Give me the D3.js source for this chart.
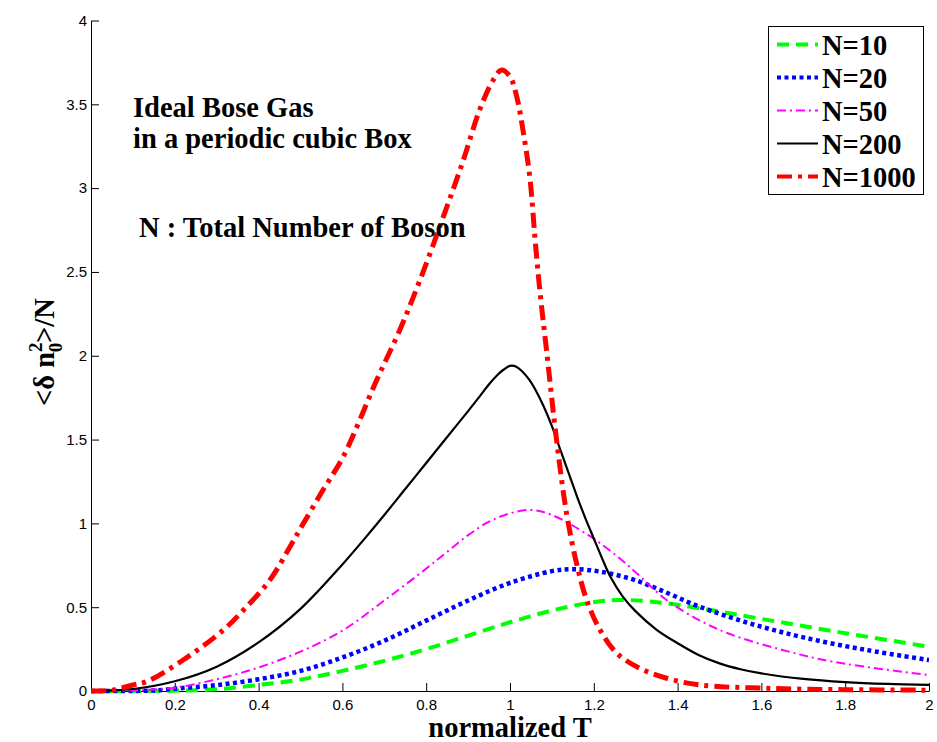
<!DOCTYPE html>
<html>
<head>
<meta charset="utf-8">
<script src="https://cdn.jsdelivr.net/npm/d3@7"></script>
<style>
  body { margin: 0; background: #fff; }
  svg text { fill: #000; }
</style>
</head>
<body>
<div id="chart"></div>
<script>
// values (normalized T, <dn0^2>/N)
const tN10 = [0, 0.2, 0.3, 0.4, 0.5, 0.6, 0.7, 0.8, 0.9, 1.0, 1.1, 1.2, 1.26, 1.34, 1.45, 1.6, 1.8, 2.0];
const vN10 = [0, 0.002, 0.01, 0.036, 0.068, 0.12, 0.18, 0.25, 0.33, 0.41, 0.48, 0.53, 0.543, 0.533, 0.495, 0.43, 0.345, 0.264];

const tN20 = [0, 0.15, 0.21, 0.3, 0.4, 0.5, 0.6, 0.7, 0.8, 0.9, 1.0, 1.1, 1.15, 1.22, 1.3, 1.38, 1.45, 1.57, 1.7, 1.85, 2.0];
const vN20 = [0, 0.003, 0.016, 0.035, 0.07, 0.12, 0.2, 0.3, 0.42, 0.54, 0.645, 0.715, 0.727, 0.71, 0.66, 0.58, 0.505, 0.405, 0.32, 0.245, 0.185];

const tN50 = [0, 0.1, 0.2, 0.3, 0.4, 0.5, 0.6, 0.7, 0.8, 0.85, 0.9, 0.95, 1.0, 1.05, 1.1, 1.19, 1.26, 1.31, 1.37, 1.45, 1.53, 1.65, 1.77, 2.0];
const vN50 = [0, 0.003, 0.02, 0.07, 0.14, 0.235, 0.36, 0.54, 0.73, 0.83, 0.93, 1.01, 1.06, 1.08, 1.05, 0.925, 0.795, 0.685, 0.55, 0.425, 0.335, 0.245, 0.175, 0.095];

const tN200 = [0, 0.1, 0.2, 0.3, 0.4, 0.5, 0.6, 0.65, 0.7, 0.75, 0.8, 0.85, 0.9, 0.93, 0.95, 0.97, 0.985, 1.0, 1.015, 1.03, 1.045, 1.06, 1.08, 1.1, 1.12, 1.14, 1.16, 1.18, 1.2, 1.22, 1.24, 1.27, 1.3, 1.35, 1.4, 1.45, 1.5, 1.55, 1.6, 1.7, 1.8, 1.9, 2.0];
const vN200 = [0, 0.012, 0.058, 0.145, 0.29, 0.49, 0.755, 0.9, 1.05, 1.205, 1.36, 1.515, 1.67, 1.765, 1.83, 1.885, 1.918, 1.94, 1.935, 1.905, 1.86, 1.8, 1.7, 1.58, 1.44, 1.3, 1.16, 1.03, 0.91, 0.79, 0.68, 0.56, 0.475, 0.365, 0.285, 0.215, 0.165, 0.13, 0.105, 0.072, 0.053, 0.042, 0.036];

const tN1000 = [0, 0.05, 0.1, 0.133, 0.22, 0.316, 0.364, 0.427, 0.475, 0.507, 0.554, 0.602, 0.682, 0.737, 0.785, 0.841, 0.889, 0.928, 0.96, 0.98, 1.0, 1.016, 1.032, 1.048, 1.06, 1.072, 1.088, 1.111, 1.135, 1.159, 1.183, 1.215, 1.255, 1.31, 1.374, 1.453, 1.613, 1.8, 2.0];
const vN1000 = [0, 0.005, 0.036, 0.056, 0.185, 0.364, 0.483, 0.662, 0.861, 1.0, 1.2, 1.398, 1.856, 2.154, 2.45, 2.83, 3.17, 3.47, 3.645, 3.705, 3.665, 3.546, 3.33, 3.05, 2.69, 2.37, 2.015, 1.5, 1.06, 0.76, 0.543, 0.364, 0.225, 0.135, 0.076, 0.036, 0.016, 0.008, 0.005];

const seriesNames = ['N=10', 'N=20', 'N=50', 'N=200', 'N=1000'];
const xTicks = [0, 0.2, 0.4, 0.6, 0.8, 1, 1.2, 1.4, 1.6, 1.8, 2];
const yTicks = [0, 0.5, 1, 1.5, 2, 2.5, 3, 3.5, 4];

const styles = [
  { color: '#00ff00', width: 4, dash: '12,7' },
  { color: '#0000ff', width: 4.5, dash: '4,3.5' },
  { color: '#ff00ff', width: 2, dash: '9,4,2,4' },
  { color: '#000000', width: 2.2, dash: null },
  { color: '#ff0000', width: 5, dash: '15,6,4,6' }
];

const series = [[tN10, vN10], [tN20, vN20], [tN50, vN50], [tN200, vN200], [tN1000, vN1000]]
  .map(function(s, i) {
    return { name: seriesNames[i], style: styles[i], points: s[0].map(function(t, j) { return [t, s[1][j]]; }) };
  });

const width = 937, height = 742;
const margin = { top: 20.5, right: 8, bottom: 51, left: 91 };

const svg = d3.select('#chart').append('svg')
  .attr('width', width)
  .attr('height', height);

const x = d3.scaleLinear().domain([0, 2]).range([margin.left, width - margin.right]);
const y = d3.scaleLinear().domain([0, 4]).range([height - margin.bottom, margin.top]);

// axes (ticks inward)
const xAxis = svg.append('g')
  .attr('transform', 'translate(0,' + y(0) + ')')
  .call(d3.axisBottom(x).tickValues(xTicks).tickSizeInner(-8).tickSizeOuter(0).tickPadding(8).tickFormat(d3.format('')));
const yAxis = svg.append('g')
  .attr('transform', 'translate(' + x(0) + ',0)')
  .call(d3.axisLeft(y).tickValues(yTicks).tickSizeInner(-8).tickSizeOuter(0).tickPadding(4).tickFormat(d3.format('')));

[xAxis, yAxis].forEach(function(a) {
  a.selectAll('text').style('font-family', '"Liberation Sans", Arial, sans-serif').style('font-size', '15px').attr('fill', '#000');
  a.selectAll('line, path').attr('stroke', '#000').attr('stroke-width', 1);
});

// curves
svg.append('clipPath').attr('id', 'plotclip')
  .append('rect')
  .attr('x', x(0)).attr('y', 0)
  .attr('width', x(2) - x(0)).attr('height', y(0) + 3);

const line = d3.line()
  .x(function(d) { return x(d[0]); })
  .y(function(d) { return y(d[1]); })
  .curve(d3.curveCatmullRom.alpha(0.5));

svg.append('g').attr('clip-path', 'url(#plotclip)')
  .selectAll('path')
  .data(series)
  .enter().append('path')
  .attr('fill', 'none')
  .attr('stroke', function(d) { return d.style.color; })
  .attr('stroke-width', function(d) { return d.style.width; })
  .attr('stroke-dasharray', function(d) { return d.style.dash; })
  .attr('d', function(d) { return line(d.points); });

// annotation text
const serif = '"Liberation Serif", "Times New Roman", serif';
const notes = [
  { text: 'Ideal Bose Gas', x: 133, y: 117 },
  { text: 'in a periodic cubic Box', x: 133, y: 148 },
  { text: 'N : Total Number of Boson', x: 139, y: 237 }
];
svg.append('g').selectAll('text')
  .data(notes)
  .enter().append('text')
  .attr('x', function(d) { return d.x; })
  .attr('y', function(d) { return d.y; })
  .style('font-family', serif)
  .style('font-weight', 'bold')
  .style('font-size', '28.5px')
  .text(function(d) { return d.text; });

// x label
svg.append('text')
  .attr('x', 510).attr('y', 737)
  .attr('text-anchor', 'middle')
  .style('font-family', serif).style('font-weight', 'bold').style('font-size', '28.5px')
  .text('normalized T');

// y label  <δ n0^2>/N
const ylab = svg.append('text')
  .attr('transform', 'translate(54,352) rotate(-90)')
  .attr('text-anchor', 'middle')
  .style('font-family', serif).style('font-weight', 'bold').style('font-size', '28.5px');
ylab.append('tspan').text('<δ n');
ylab.append('tspan').attr('dy', -12).style('font-size', '19px').text('2');
ylab.append('tspan').attr('dx', -10).attr('dy', 20).style('font-size', '19px').text('0');
ylab.append('tspan').attr('dy', -8).text('>/N');

// legend
const legend = svg.append('g');
legend.append('rect')
  .attr('x', 768.5).attr('y', 26.5)
  .attr('width', 155).attr('height', 168)
  .attr('fill', '#fff').attr('stroke', '#000').attr('stroke-width', 1);
const item = legend.selectAll('g.item')
  .data(series)
  .enter().append('g')
  .attr('class', 'item')
  .attr('transform', function(d, i) { return 'translate(0,' + (44.5 + i * 33) + ')'; });
item.append('line')
  .attr('x1', 777).attr('x2', 818)
  .attr('stroke', function(d) { return d.style.color; })
  .attr('stroke-width', function(d) { return Math.min(d.style.width, 4); })
  .attr('stroke-dasharray', function(d) { return d.style.dash; });
item.append('text')
  .attr('x', 822).attr('y', 10)
  .style('font-family', serif).style('font-weight', 'bold').style('font-size', '28.5px')
  .text(function(d) { return d.name; });
</script>
</body>
</html>
